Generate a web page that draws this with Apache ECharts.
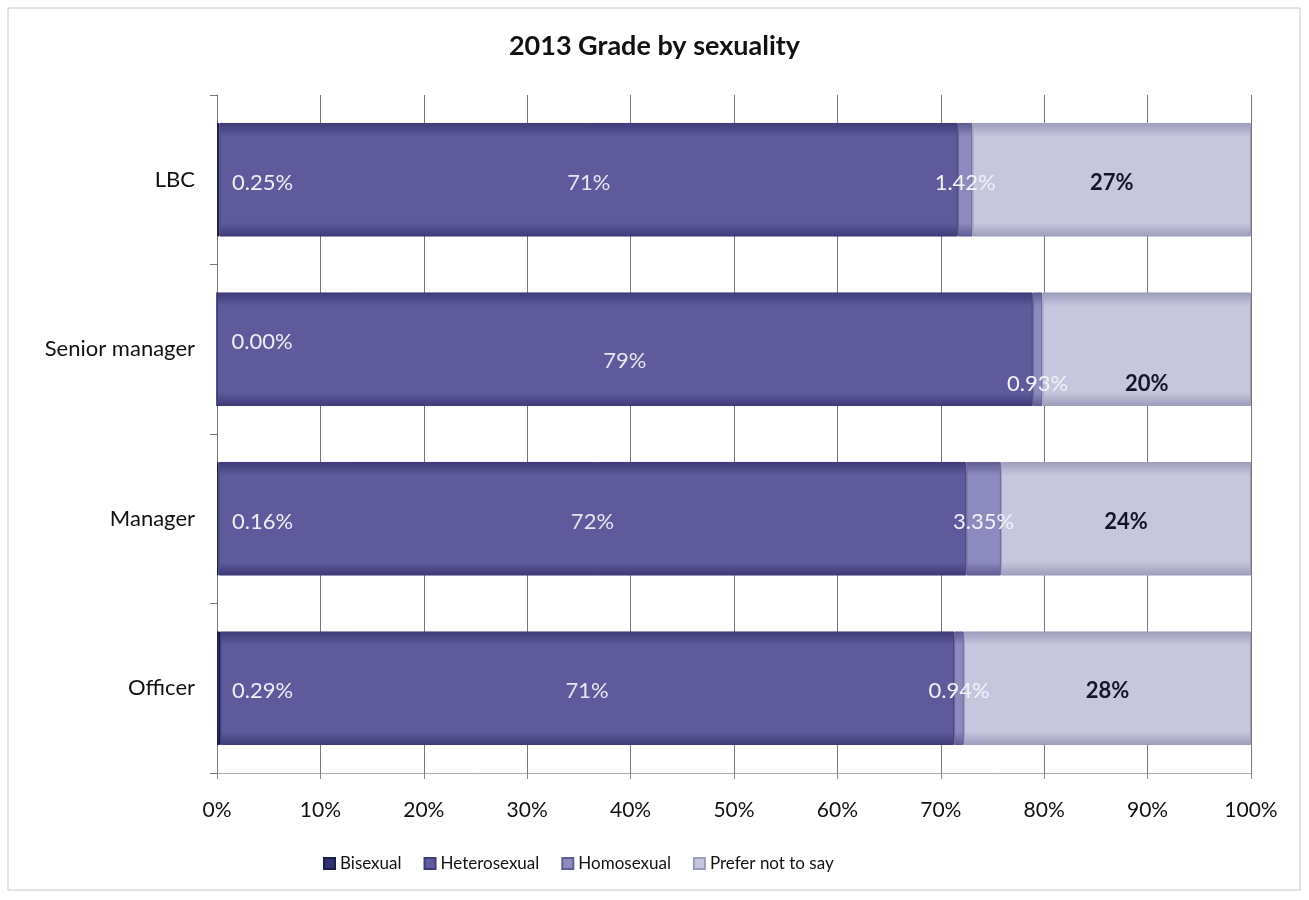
<!DOCTYPE html>
<html>
<head>
<meta charset="utf-8">
<script src="https://cdn.jsdelivr.net/npm/echarts@6/dist/echarts.min.js"></script>
<style>
html,body{margin:0;padding:0;background:#fff;}
#chart{width:1309px;height:900px;}
</style>
</head>
<body>
<div id="chart"></div>
<script>
const categories = ['Officer', 'Manager', 'Senior manager', 'LBC'];
const bisexual = [0.29, 0.16, 0.00, 0.25];
const heterosexual = [71.0, 72.3, 78.9, 71.4];
const homosexual = [0.94, 3.35, 0.93, 1.42];
const preferNotToSay = [27.77, 24.19, 20.17, 26.93];
const xTicks = [0, 10, 20, 30, 40, 50, 60, 70, 80, 90, 100];

const FONT = 'Lato, "Open Sans", sans-serif';

function grad(c1, c2) {
  return new echarts.graphic.LinearGradient(0, 0, 0, 1, [
    {offset: 0, color: c1}, {offset: 0.12, color: c2}, {offset: 0.88, color: c2}, {offset: 1, color: c1}
  ]);
}

// label vertical nudges (Senior manager row is staggered in the original)
const labelDy = {
  Bisexual: {2: -10},
  Heterosexual: {2: 9},
  Homosexual: {2: 32},
  'Prefer not to say': {2: 32}
};

function mkSeries(name, arr, color, borderColor, decimals, labelColor, pos, bold) {
  return {
    name: name,
    type: 'bar',
    stack: 'total',
    barCategoryGap: '33%',
    data: arr.map((v, i) => {
      const dy = (labelDy[name] && labelDy[name][i]) || 0;
      return {value: v, label: {offset: [pos === 'insideLeft' ? 10 : 0, dy + 3]}};
    }),
    itemStyle: {color: grad(borderColor, color), borderColor: borderColor, borderWidth: 1},
    label: {
      show: true,
      position: pos,
      color: labelColor,
      fontFamily: FONT,
      fontSize: 22,
      fontWeight: bold ? 'bold' : 'normal',
      formatter: p => p.value.toFixed(decimals) + '%'
    },
    emphasis: {disabled: true}
  };
}

const chart = echarts.init(document.getElementById('chart'));
chart.setOption({
  backgroundColor: '#fff',
  animation: false,
  title: {
    text: '2013 Grade by sexuality',
    left: 'center',
    top: 28,
    textStyle: {fontFamily: FONT, fontSize: 27, fontWeight: 'bold', color: '#111'}
  },
  legend: {
    bottom: 23,
    left: 318,
    itemWidth: 11,
    itemHeight: 11,
    itemGap: 22,
    icon: 'rect',
    textStyle: {fontFamily: FONT, fontSize: 17, color: '#111'},
    data: ['Bisexual', 'Heterosexual', 'Homosexual', 'Prefer not to say']
  },
  grid: {left: 217, right: 58, top: 95, bottom: 127},
  xAxis: {
    type: 'value',
    min: 0,
    max: 100,
    interval: 10,
    axisLine: {show: true, lineStyle: {color: '#aaa'}},
    axisTick: {show: true, length: 6, lineStyle: {color: '#888'}},
    splitLine: {show: true, lineStyle: {color: '#777', width: 1}},
    axisLabel: {
      fontFamily: FONT, fontSize: 21, color: '#111', margin: 27,
      formatter: v => (xTicks.indexOf(v) >= 0 ? v : v) + '%'
    }
  },
  yAxis: {
    type: 'category',
    data: categories,
    axisLine: {show: true, lineStyle: {color: '#777'}},
    axisTick: {show: true, length: 7, lineStyle: {color: '#777'}},
    axisLabel: {fontFamily: FONT, fontSize: 22, color: '#111', margin: 22}
  },
  graphic: [{
    type: 'rect',
    shape: {x: 8, y: 8, width: 1292, height: 882},
    style: {fill: 'none', stroke: '#c8c8c8', lineWidth: 1},
    silent: true
  }],
  series: [
    mkSeries('Bisexual', bisexual, '#2f3170', '#1c1d4d', 2, '#eeeef6', 'insideLeft', false),
    mkSeries('Heterosexual', heterosexual, '#5e5a9c', '#3f3b78', 0, '#e6e6f2', 'inside', false),
    mkSeries('Homosexual', homosexual, '#8d8abd', '#5f5c92', 2, '#f2f2fa', 'inside', false),
    mkSeries('Prefer not to say', preferNotToSay, '#c6c6de', '#9c9cbc', 0, '#15152a', 'inside', true)
  ]
});
</script>
</body>
</html>
